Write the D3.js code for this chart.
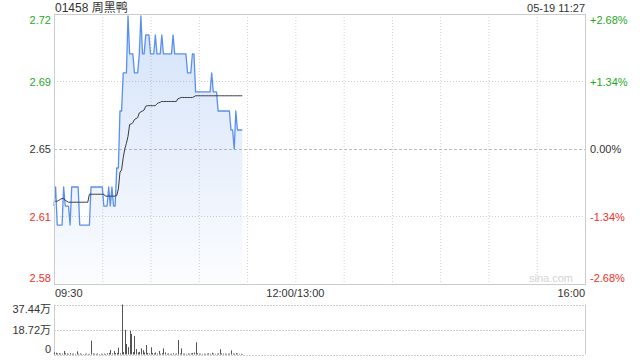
<!DOCTYPE html>
<html>
<head>
<meta charset="utf-8">
<script src="https://cdn.jsdelivr.net/npm/d3@7"></script>
<style>
  body { margin: 0; background: #fff; }
  svg { display: block; font-family: Arial, "Liberation Sans", "Noto Sans CJK SC", sans-serif; }
</style>
</head>
<body>
<svg id="chart" width="640" height="360"></svg>
<script>
// stock info
const title = "01458 周黑鸭";
const stamp = "05-19 11:27";
const prevClose = 2.65;
const pctRange = 2.68; // % shown above / below prev close

// y-axis tick labels (bottom -> top)
const pctTicks = [-2.68, -1.34, 0, 1.34, 2.68];
const priceLabels = ["2.58", "2.61", "2.65", "2.69", "2.72"];
const pctLabels = ["-2.68%", "-1.34%", "0.00%", "+1.34%", "+2.68%"];

// time axis: minutes since 09:30 on a 330 minute trading day
const timeTicks = [0, 150, 330];
const timeLabels = ["09:30", "12:00/13:00", "16:00"];

// per minute from 09:30 to 11:27
const prices = [
  2.62, 2.63, 2.61, 2.61, 2.61, 2.61, 2.63, 2.62, 2.62, 2.62,
  2.61, 2.63, 2.63, 2.63, 2.63, 2.63, 2.61, 2.61, 2.61, 2.61,
  2.61, 2.61, 2.61, 2.63, 2.63, 2.63, 2.63, 2.63, 2.63, 2.63,
  2.63, 2.62, 2.62, 2.62, 2.63, 2.62, 2.63, 2.62, 2.62, 2.64,
  2.64, 2.67, 2.67, 2.69, 2.69, 2.69, 2.72, 2.70, 2.70, 2.70,
  2.69, 2.69, 2.69, 2.70, 2.72, 2.70, 2.70, 2.71, 2.71, 2.71,
  2.70, 2.70, 2.70, 2.71, 2.70, 2.70, 2.70, 2.71, 2.70, 2.70,
  2.70, 2.70, 2.70, 2.70, 2.71, 2.70, 2.70, 2.70, 2.70, 2.70,
  2.70, 2.70, 2.70, 2.69, 2.69, 2.69, 2.70, 2.70, 2.68, 2.68,
  2.68, 2.68, 2.68, 2.68, 2.68, 2.68, 2.68, 2.68, 2.69, 2.68,
  2.68, 2.68, 2.67, 2.67, 2.67, 2.67, 2.67, 2.67, 2.67, 2.67,
  2.66, 2.66, 2.65, 2.67, 2.66, 2.66, 2.66, 2.66
];

const avgPrices = [
  2.6225, 2.6225, 2.6225, 2.6230, 2.6235, 2.6240, 2.6238, 2.6230, 2.6225, 2.6220,
  2.6220, 2.6220, 2.6220, 2.6220, 2.6220, 2.6220, 2.6220, 2.6220, 2.6220, 2.6220,
  2.6220, 2.6220, 2.6262, 2.6262, 2.6262, 2.6262, 2.6262, 2.6262, 2.6262, 2.6262,
  2.6262, 2.6262, 2.6252, 2.6252, 2.6252, 2.6252, 2.6252, 2.6252, 2.6252, 2.6255,
  2.6290, 2.6378, 2.6390, 2.6454, 2.6500, 2.6530, 2.6567, 2.6629, 2.6632, 2.6638,
  2.6655, 2.6660, 2.6665, 2.6690, 2.6695, 2.6700, 2.6705, 2.6725, 2.6728, 2.6728,
  2.6728, 2.6728, 2.6728, 2.6728, 2.6738, 2.6743, 2.6746, 2.6750, 2.6750, 2.6750,
  2.6750, 2.6750, 2.6750, 2.6750, 2.6750, 2.6750, 2.6750, 2.6764, 2.6767, 2.6771,
  2.6771, 2.6771, 2.6771, 2.6771, 2.6771, 2.6771, 2.6771, 2.6775, 2.6780, 2.6780,
  2.6780, 2.6780, 2.6780, 2.6780, 2.6780, 2.6780, 2.6780, 2.6780, 2.6780, 2.6780,
  2.6780, 2.6780, 2.6780, 2.6780, 2.6780, 2.6780, 2.6780, 2.6780, 2.6780, 2.6780,
  2.6780, 2.6780, 2.6780, 2.6780, 2.6780, 2.6780, 2.6780, 2.6780
];

// volume in 万 shares
const volumes = [
  1.6, 1.3, 0.8, 1.0, 0.6, 0.7, 2.6, 0.9, 0.8, 0.5,
  1.0, 0.6, 0.7, 0.5, 2.4, 0.6, 0.8, 0.5, 0.4, 0.6,
  0.7, 0.4, 0.5, 10.4, 0.8, 0.6, 0.5, 0.7, 0.4, 0.6,
  0.5, 0.7, 0.5, 0.9, 1.2, 3.4, 0.8, 2.6, 1.0, 1.2,
  5.1, 0.9, 37.44, 1.8, 18.4, 7.9, 5.5, 17.7, 15.4, 1.8,
  13.9, 4.1, 1.6, 2.0, 4.6, 3.2, 1.5, 7.1, 1.2, 0.8,
  5.4, 1.2, 0.9, 1.5, 0.7, 2.6, 0.6, 1.0, 4.6, 1.5,
  0.6, 0.8, 0.5, 0.6, 0.9, 0.5, 0.7, 10.9, 0.8, 4.6,
  0.6, 0.7, 0.5, 0.8, 0.6, 0.9, 1.2, 1.5, 9.2, 1.0,
  0.7, 0.6, 0.5, 0.6, 0.5, 0.7, 0.9, 0.6, 1.3, 0.7,
  0.5, 0.6, 0.8, 3.9, 0.9, 0.7, 0.6, 0.5, 0.6, 0.7,
  3.1, 0.8, 0.6, 1.0, 0.7, 0.5, 0.6, 0.4
];
const volTicks = [0, 18.72, 37.44];
const volLabels = ["0", "18.72万", "37.44万"];

const upColor = "#1fa81f";
const downColor = "#f0302a";
const textColor = "#333";
const gridColor = "#cfcfcf";

const left = 54, right = 585;
const priceTop = 14, priceBottom = 284;
const volTop = 304.5, volBottom = 354.5;

const svg = d3.select("#chart");

const x = d3.scaleLinear().domain([0, 330]).range([left, right]);
const y = d3.scaleLinear()
  .domain([prevClose * (1 - pctRange / 100), prevClose * (1 + pctRange / 100)])
  .range([priceBottom, priceTop]);
const yVol = d3.scaleLinear().domain([0, d3.max(volTicks)]).range([volBottom, volTop]);

const defs = svg.append("defs");
const grad = defs.append("linearGradient")
  .attr("id", "fillGrad")
  .attr("gradientUnits", "userSpaceOnUse")
  .attr("x1", 0).attr("y1", priceTop).attr("x2", 0).attr("y2", priceBottom);
grad.append("stop").attr("offset", "0%").attr("stop-color", "#4a86e8").attr("stop-opacity", 0.24);
grad.append("stop").attr("offset", "100%").attr("stop-color", "#4a86e8").attr("stop-opacity", 0.02);

// --- title row ---
svg.append("text")
  .attr("x", left + 1).attr("y", 12)
  .attr("fill", textColor).style("font-size", "12px")
  .text(title);
svg.append("text")
  .attr("x", right).attr("y", 12)
  .attr("text-anchor", "end")
  .attr("fill", textColor).style("font-size", "11px")
  .text(stamp);

// --- grid ---
const grid = svg.append("g");
d3.range(30, 330, 30).forEach(t => {
  grid.append("line")
    .attr("x1", x(t) + 0.5).attr("x2", x(t) + 0.5)
    .attr("y1", priceTop).attr("y2", priceBottom)
    .attr("stroke", gridColor).attr("stroke-dasharray", "1,2");
});
pctTicks.slice(1, -1).forEach(p => {
  const yy = Math.round(y(prevClose * (1 + p / 100))) + 0.5;
  grid.append("line")
    .attr("x1", left).attr("x2", right)
    .attr("y1", yy).attr("y2", yy)
    .attr("stroke", p === 0 ? "#bbb" : gridColor)
    .attr("stroke-dasharray", p === 0 ? "3,2" : "1,2");
});

// --- price area + line ---
const idx = d3.range(prices.length);
svg.append("path")
  .datum(idx)
  .attr("fill", "url(#fillGrad)")
  .attr("d", d3.area().x(i => x(i)).y0(priceBottom).y1(i => y(prices[i])));

svg.append("path")
  .datum(idx)
  .attr("fill", "none")
  .attr("stroke", "#5a8fee")
  .attr("stroke-width", 1.3)
  .attr("stroke-linejoin", "round")
  .attr("d", d3.line().x(i => x(i)).y(i => y(prices[i])));

svg.append("path")
  .datum(idx)
  .attr("fill", "none")
  .attr("stroke", "#3a3a3a")
  .attr("stroke-width", 1)
  .attr("d", d3.line().x(i => x(i)).y(i => y(avgPrices[i])));

// frame
svg.append("rect")
  .attr("x", left + 0.5).attr("y", priceTop + 0.5)
  .attr("width", right - left).attr("height", priceBottom - priceTop)
  .attr("fill", "none").attr("stroke", "#ccc");

// watermark
svg.append("text")
  .attr("x", right - 12).attr("y", priceBottom - 2)
  .attr("text-anchor", "end")
  .attr("fill", "#d4d4d4").style("font-size", "11px")
  .text("sina.com");

// --- y labels ---
pctTicks.forEach((p, i) => {
  const yy = y(prevClose * (1 + p / 100));
  const col = p > 0 ? upColor : (p < 0 ? downColor : textColor);
  let ty = yy + 4;
  if (i === pctTicks.length - 1) ty = yy + 10;
  if (i === 0) ty = yy - 2;
  svg.append("text")
    .attr("x", left - 3).attr("y", ty)
    .attr("text-anchor", "end")
    .attr("fill", col).style("font-size", "11px")
    .text(priceLabels[i]);
  svg.append("text")
    .attr("x", right + 5).attr("y", ty)
    .attr("fill", col).style("font-size", "11px")
    .text(pctLabels[i]);
});

// --- time labels ---
timeTicks.forEach((t, i) => {
  const anchor = i === 0 ? "start" : (i === timeTicks.length - 1 ? "end" : "middle");
  svg.append("text")
    .attr("x", x(t) + (i === 0 ? 1 : 0)).attr("y", 297)
    .attr("text-anchor", anchor)
    .attr("fill", textColor).style("font-size", "11px")
    .text(timeLabels[i]);
});

// --- volume panel ---
const vol = svg.append("g");
volTicks.forEach(v => {
  vol.append("line")
    .attr("x1", left).attr("x2", right)
    .attr("y1", Math.round(yVol(v)) + 0.5).attr("y2", Math.round(yVol(v)) + 0.5)
    .attr("stroke", gridColor).attr("stroke-dasharray", "2,1");
});
[left, right].forEach(xx => {
  vol.append("line")
    .attr("x1", xx + 0.5).attr("x2", xx + 0.5)
    .attr("y1", volTop).attr("y2", volBottom)
    .attr("stroke", "#ccc");
});
vol.selectAll("rect.bar")
  .data(volumes)
  .join("rect")
    .attr("class", "bar")
    .attr("x", (d, i) => Math.round(x(i)))
    .attr("width", 1)
    .attr("y", d => yVol(d))
    .attr("height", d => volBottom - yVol(d))
    .attr("fill", "#555");
volTicks.forEach((v, i) => {
  let ty = yVol(v) + 4;
  if (i === 0) ty = yVol(v) - 2;
  if (i === volTicks.length - 1) ty = yVol(v) + 8;
  vol.append("text")
    .attr("x", left - 3).attr("y", ty)
    .attr("text-anchor", "end")
    .attr("fill", textColor).style("font-size", "11px")
    .text(volLabels[i]);
});
</script>
</body>
</html>
